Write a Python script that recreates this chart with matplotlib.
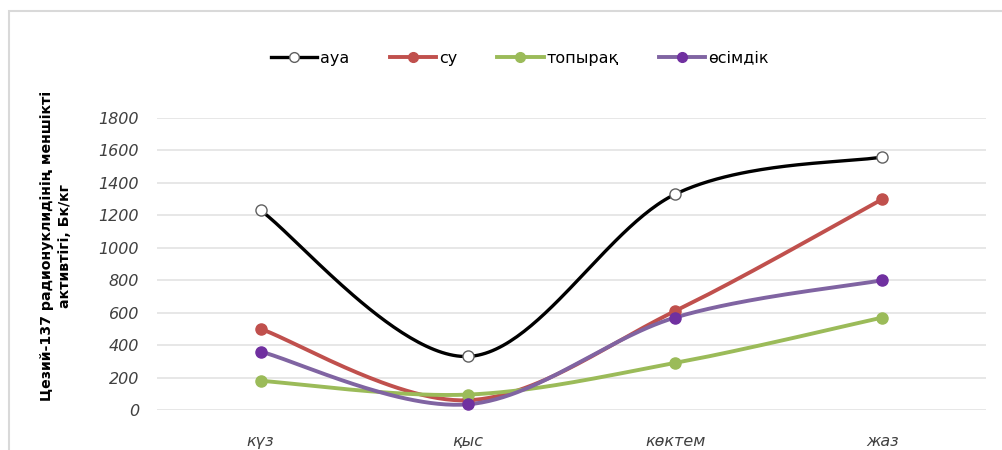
import numpy as np
import matplotlib
matplotlib.use("Agg")
import matplotlib.pyplot as plt
from matplotlib.lines import Line2D
from matplotlib.patches import Rectangle

# Data
seasons = ["күз", "қыс", "көктем", "жаз"]
aua = [1230, 330, 1330, 1560]
su = [500, 60, 610, 1300]
topyraq = [180, 95, 290, 570]
osimdik = [360, 35, 570, 800]

series = [
    ("ауа", aua, "#000000", "white", "#606060"),
    ("су", su, "#C0504D", "#C0504D", "#C0504D"),
    ("топырақ", topyraq, "#9BBB59", "#9BBB59", "#9BBB59"),
    ("өсімдік", osimdik, "#8064A2", "#7030A0", "#7030A0"),
]


def smooth(xs, ys, n=60):
    """Excel-style smoothed line (Catmull-Rom via cubic Bezier)."""
    pts = np.column_stack([xs, ys]).astype(float)
    out = []
    for i in range(len(pts) - 1):
        p0 = pts[max(i - 1, 0)]
        p1 = pts[i]
        p2 = pts[i + 1]
        p3 = pts[min(i + 2, len(pts) - 1)]
        c1 = p1 + (p2 - p0) / 6
        c2 = p2 - (p3 - p1) / 6
        t = np.linspace(0, 1, n)[:, None]
        seg = ((1 - t) ** 3) * p1 + 3 * ((1 - t) ** 2) * t * c1 + 3 * (1 - t) * t ** 2 * c2 + t ** 3 * p2
        out.append(seg if i == 0 else seg[1:])
    out = np.vstack(out)
    return out[:, 0], out[:, 1]


fig = plt.figure(figsize=(10.03, 4.5), dpi=100)
W, H = 1003, 450
ax = fig.add_axes([157 / W, 1 - 410 / H, (986 - 157) / W, (410 - 118) / H])

# outer chart frame
fig.patches.append(Rectangle((9 / W, -0.1), 1.5, 1 - 11 / H + 0.1, transform=fig.transFigure,
                             fill=False, edgecolor="#D9D9D9", linewidth=1.5, zorder=0))

x = np.arange(len(seasons))
handles = []
for name, vals, lc, mfc, mec in series:
    sx, sy = smooth(x, vals)
    lw = 2.4 if name == "ауа" else 2.8
    ax.plot(sx, sy, color=lc, linewidth=lw, solid_capstyle="round", zorder=3)
    ax.plot(x, vals, linestyle="none", marker="o", markersize=8, markerfacecolor=mfc,
            markeredgecolor=mec, markeredgewidth=1.0, zorder=4)
    handles.append(Line2D([0], [0], color=lc, linewidth=lw, marker="o", markersize=7,
                          markerfacecolor=mfc, markeredgecolor=mec, markeredgewidth=1.0))

ax.set_xlim(-0.5, len(seasons) - 0.5)
ax.set_ylim(0, 1800)
ax.set_yticks(range(0, 1801, 200))
ax.set_xticks(x)
ax.set_xticklabels(seasons)
ax.grid(axis="y", color="#E3E3E3", linewidth=1.2)
ax.set_axisbelow(True)
for s in ax.spines.values():
    s.set_visible(False)
ax.tick_params(length=0)
ax.tick_params(axis="y", pad=13)
ax.tick_params(axis="x", pad=17)
for lab in ax.get_yticklabels() + ax.get_xticklabels():
    lab.set_fontstyle("italic")
    lab.set_fontsize(11.5)
    lab.set_color("#404040")

fig.text(56 / W, 1 - 246 / H, "Цезий-137 радионуклидінің меншікті\nактивтігі, Бк/кг",
         rotation=90, ha="center", va="center", fontsize=10.2, fontweight="bold",
         linespacing=1.45)

fig.legend(handles, [s[0] for s in series], loc="center", bbox_to_anchor=(520 / W, 1 - 58 / H),
           ncol=4, frameon=False, fontsize=11.5, handlelength=2.9, columnspacing=2.5,
           handletextpad=0.2)

fig.savefig("out.png", dpi=100)
